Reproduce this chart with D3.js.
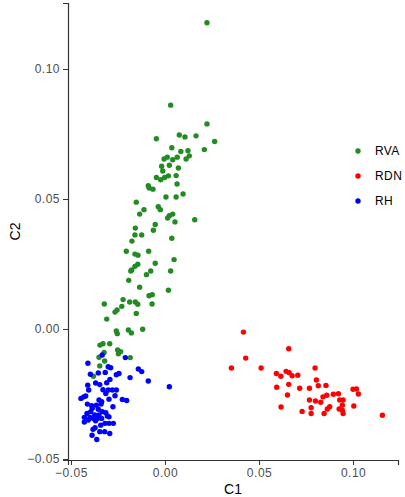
<!DOCTYPE html>
<html>
<head>
<meta charset="utf-8">
<script src="https://cdn.jsdelivr.net/npm/d3@7"></script>
<style>
  body { margin: 0; background: #fff; }
  .axis path, .axis line { stroke: #333; }
  .axis text { fill: #4d4d4d; font-family: "Liberation Sans", Arial, sans-serif; font-size: 12px; letter-spacing: 0.5px; }
  .axis-title { font-family: "Liberation Sans", Arial, sans-serif; font-size: 14px; fill: #000; }
  .legend text { font-family: "Liberation Sans", Arial, sans-serif; font-size: 12px; letter-spacing: 0.4px; fill: #000; }
</style>
</head>
<body>
<div id="chart"></div>
<script>
// groups, in drawing order
const groups = ['RVA', 'RDN', 'RH'];
const legendOrder = ['RVA', 'RDN', 'RH'];
const groupColors = ['#228B22', '#ff0000', '#0000ff'];

const xTicks = [-0.05, 0.00, 0.05, 0.10];
const yTicks = [-0.05, 0.00, 0.05, 0.10];

// [C1, C2] for each group
const rva = [
  [0.0223, 0.1178], [0.0030, 0.0861], [0.0223, 0.0789], [-0.0046, 0.0732], [0.0076, 0.0746],
  [0.0106, 0.0739], [0.0165, 0.0743], [0.0264, 0.0721], [0.0036, 0.0697], [0.0084, 0.0683],
  [0.0122, 0.0686], [0.0209, 0.0690], [-0.0005, 0.0654], [0.0012, 0.0661], [0.0041, 0.0651],
  [0.0065, 0.0661], [0.0112, 0.0654], [0.0129, 0.0666], [-0.0018, 0.0626], [0.0023, 0.0630],
  [0.0071, 0.0619], [-0.0012, 0.0608], [-0.0046, 0.0583], [-0.0023, 0.0574], [-0.0002, 0.0583],
  [0.0018, 0.0589], [0.0059, 0.0590], [-0.0089, 0.0551], [-0.0084, 0.0542], [-0.0064, 0.0538],
  [0.0064, 0.0558], [0.0005, 0.0508], [0.0059, 0.0508], [0.0096, 0.0519], [-0.0153, 0.0488],
  [-0.0112, 0.0459], [-0.0036, 0.0470], [-0.0025, 0.0459], [-0.0135, 0.0442], [0.0014, 0.0427],
  [0.0023, 0.0436], [0.0041, 0.0442], [0.0053, 0.0412], [0.0158, 0.0420], [-0.0052, 0.0402],
  [-0.0158, 0.0388], [-0.0062, 0.0380], [-0.0160, 0.0362], [-0.0124, 0.0362], [0.0036, 0.0349],
  [-0.0176, 0.0338], [-0.0206, 0.0299], [-0.0160, 0.0288], [-0.0144, 0.0284], [-0.0087, 0.0299],
  [-0.0145, 0.0249], [-0.0160, 0.0241], [-0.0177, 0.0227], [-0.0182, 0.0223], [-0.0052, 0.0253],
  [0.0048, 0.0267], [0.0030, 0.0223], [-0.0076, 0.0223], [-0.0099, 0.0209], [-0.0193, 0.0187],
  [-0.0135, 0.0161], [0.0018, 0.0149], [-0.0085, 0.0128], [-0.0068, 0.0132], [-0.0323, 0.0096],
  [-0.0223, 0.0113], [-0.0188, 0.0104], [-0.0158, 0.0104], [-0.0145, 0.0095], [-0.0069, 0.0096],
  [-0.0230, 0.0087], [-0.0255, 0.0073], [-0.0266, 0.0065], [-0.0153, 0.0060], [-0.0310, 0.0038],
  [-0.0259, -0.0008], [-0.0254, -0.0018], [-0.0195, -0.0004], [-0.0179, -0.0015], [-0.0119, -0.0001],
  [-0.0346, -0.0062], [-0.0330, -0.0057], [-0.0294, -0.0057], [-0.0324, -0.0090], [-0.0252, -0.0081],
  [-0.0236, -0.0087], [-0.0248, -0.0095], [-0.0351, -0.0109], [-0.0321, -0.0123], [-0.0185, -0.0110],
  [-0.0347, -0.0142], [-0.0381, -0.0182]
];

const rdn = [
  [0.0417, -0.0012], [0.0658, -0.0076], [0.0429, -0.0112], [0.0353, -0.0150], [0.0511, -0.0150],
  [0.0798, -0.0150], [0.0592, -0.0171], [0.0616, -0.0182], [0.0644, -0.0163], [0.0660, -0.0168],
  [0.0676, -0.0180], [0.0706, -0.0178], [0.0805, -0.0196], [0.0658, -0.0213], [0.0594, -0.0224],
  [0.0716, -0.0228], [0.0768, -0.0228], [0.0815, -0.0218], [0.0856, -0.0217], [0.0651, -0.0254],
  [0.0617, -0.0300], [0.0729, -0.0317], [0.0768, -0.0273], [0.0777, -0.0303], [0.0777, -0.0325],
  [0.0800, -0.0277], [0.0828, -0.0282], [0.0840, -0.0261], [0.0860, -0.0255], [0.0895, -0.0251],
  [0.0922, -0.0249], [0.0876, -0.0299], [0.0863, -0.0308], [0.0846, -0.0325], [0.0929, -0.0273],
  [0.0947, -0.0273], [0.0926, -0.0308], [0.0943, -0.0293], [0.0943, -0.0312], [0.0947, -0.0325],
  [0.1000, -0.0232], [0.1018, -0.0231], [0.1028, -0.0250], [0.1004, -0.0296], [0.1156, -0.0332]
];

const rh = [
  [-0.0334, -0.0100], [-0.0410, -0.0132], [-0.0211, -0.0110], [-0.0302, -0.0145], [-0.0289, -0.0149],
  [-0.0142, -0.0154], [-0.0124, -0.0164], [-0.0397, -0.0174], [-0.0355, -0.0169], [-0.0318, -0.0167],
  [-0.0259, -0.0176], [-0.0245, -0.0171], [-0.0186, -0.0187], [-0.0089, -0.0200], [0.0023, -0.0222],
  [-0.0293, -0.0194], [-0.0310, -0.0207], [-0.0369, -0.0208], [-0.0347, -0.0214], [-0.0411, -0.0216],
  [-0.0406, -0.0235], [-0.0330, -0.0234], [-0.0302, -0.0235], [-0.0280, -0.0235], [-0.0259, -0.0235],
  [-0.0315, -0.0248], [-0.0266, -0.0257], [-0.0432, -0.0261], [-0.0447, -0.0267], [-0.0422, -0.0258],
  [-0.0298, -0.0270], [-0.0227, -0.0271], [-0.0204, -0.0275], [-0.0351, -0.0273], [-0.0337, -0.0280],
  [-0.0413, -0.0289], [-0.0390, -0.0295], [-0.0365, -0.0293], [-0.0340, -0.0289], [-0.0277, -0.0299],
  [-0.0387, -0.0305], [-0.0355, -0.0309], [-0.0395, -0.0318], [-0.0334, -0.0318], [-0.0315, -0.0322],
  [-0.0415, -0.0325], [-0.0374, -0.0331], [-0.0351, -0.0331], [-0.0307, -0.0335], [-0.0429, -0.0340],
  [-0.0399, -0.0340], [-0.0381, -0.0344], [-0.0360, -0.0344], [-0.0337, -0.0344], [-0.0298, -0.0338],
  [-0.0408, -0.0350], [-0.0369, -0.0353], [-0.0429, -0.0358], [-0.0319, -0.0363], [-0.0298, -0.0363],
  [-0.0275, -0.0363], [-0.0342, -0.0370], [-0.0372, -0.0380], [-0.0383, -0.0386], [-0.0347, -0.0395],
  [-0.0321, -0.0395], [-0.0294, -0.0402], [-0.0388, -0.0409], [-0.0363, -0.0425]
];

const groupData = [rva, rdn, rh];

function scatter() {
    const margin = {top: 3, right: 7, bottom: 37, left: 68};
    const width = 405 - margin.left - margin.right;
    const height = 497 - margin.top - margin.bottom;

    const svg = d3.select("#chart")
        .append("svg")
        .attr("width", 405)
        .attr("height", 497)
        .append("g")
        .attr("transform", `translate(${margin.left}, ${margin.top})`);

    // scales
    const xScale = d3.scaleLinear()
        .domain([-0.0516, 0.1239])
        .range([0, width]);
    const yScale = d3.scaleLinear()
        .domain([-0.0504, 0.1254])
        .range([height, 0]);
    const color = d3.scaleOrdinal().domain(groups).range(groupColors);

    // axes
    svg.append("g")
        .attr("class", "axis")
        .attr("transform", `translate(0, ${height})`)
        .call(d3.axisBottom(xScale).tickValues(xTicks).tickFormat(d3.format(".2f")).tickSizeOuter(0).tickSize(5).tickPadding(3))
        .call(g => g.select(".domain").attr("stroke-width", 1.2));
    svg.append("g")
        .attr("class", "axis")
        .call(d3.axisLeft(yScale).tickValues(yTicks).tickFormat(d3.format(".2f")).tickSizeOuter(0).tickSize(5).tickPadding(3))
        .call(g => g.select(".domain").attr("stroke-width", 1.2));

    // points
    const points = [];
    groups.forEach((gname, i) => groupData[i].forEach(p => points.push({group: gname, c1: p[0], c2: p[1]})));
    svg.selectAll(".dot")
        .data(points)
        .join("circle")
        .attr("class", "dot")
        .attr("cx", d => xScale(d.c1))
        .attr("cy", d => yScale(d.c2))
        .attr("r", 2.7)
        .attr("fill", d => color(d.group));

    // axis titles
    svg.append("text")
        .attr("class", "axis-title")
        .attr("text-anchor", "middle")
        .attr("x", width / 2)
        .attr("y", height + 34)
        .text("C1");
    svg.append("text")
        .attr("class", "axis-title")
        .attr("text-anchor", "middle")
        .attr("transform", `translate(${-48}, ${height / 2}) rotate(-90)`)
        .text("C2");

    // legend
    const legend = svg.append("g")
        .attr("class", "legend")
        .attr("transform", `translate(${358 - margin.left}, ${151 - margin.top})`);
    const rows = legend.selectAll("g")
        .data(legendOrder)
        .join("g")
        .attr("transform", (d, i) => `translate(0, ${i * 25})`);
    rows.append("circle").attr("r", 2.7).attr("fill", d => color(d));
    rows.append("text").attr("x", 17).attr("dy", "0.35em").text(d => d);
}

scatter();
</script>
</body>
</html>
